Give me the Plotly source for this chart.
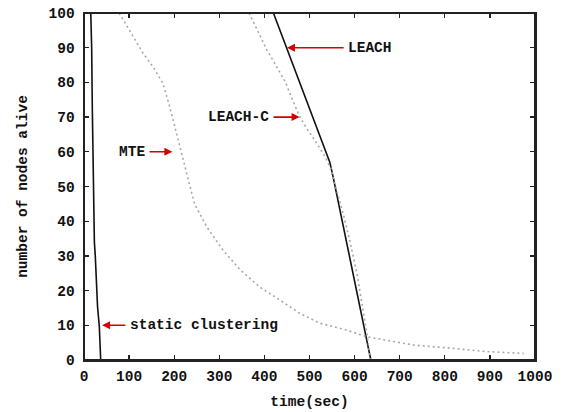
import plotly.graph_objects as go

# ---- data ----
static_x = [15, 16, 17, 18.5, 20, 21, 23, 25, 28, 30, 34, 35.5, 37]
static_y = [100, 95, 90, 72, 55, 46, 34, 30, 22, 15.4, 9.6, 3, 0]

leach_x = [420, 449, 500, 545, 552, 568, 594, 620, 636]
leach_y = [100, 90, 72.5, 57, 53, 43, 26.5, 9.5, 0]

leachc_x = [366, 385, 405, 425, 447, 462, 479, 495, 511, 535, 548, 560, 575, 590, 605, 618, 628, 635]
leachc_y = [100, 95, 89.5, 85, 80, 75, 70, 66.5, 63.5, 58.5, 55, 49, 42, 34, 25, 15, 7, 0]

mte_x = [78, 105, 131, 153, 175, 190, 205, 214, 231, 245, 272, 308, 346, 390, 434, 479, 523, 583, 627, 664, 731, 805, 894, 975]
mte_y = [100, 94, 88.4, 84.5, 79.7, 73, 65.3, 60.5, 52, 45, 38.4, 31.7, 26, 21, 17.3, 13.4, 10.6, 8.6, 6.7, 5.8, 4.3, 3.5, 2.4, 1.9]

x_ticks = [0, 100, 200, 300, 400, 500, 600, 700, 800, 900, 1000]
y_ticks = [0, 10, 20, 30, 40, 50, 60, 70, 80, 90, 100]

# labels: (text, text_x, text_y, anchor, arrow_tail_x, arrow_head_x)
labels = [
    ("LEACH", 579, 90, "left", 579, 450),
    ("LEACH-C", 417, 70, "right", 417, 478),
    ("MTE", 142, 60, "right", 142, 196),
    ("static clustering", 95, 10, "left", 95, 40),
]

FONT = "Liberation Mono"
RED = "#d40000"
FS = 14.5

fig = go.Figure()
fig.add_trace(go.Scatter(x=static_x, y=static_y, mode="lines",
                         line=dict(color="#111111", width=1.6), showlegend=False))
fig.add_trace(go.Scatter(x=leach_x, y=leach_y, mode="lines",
                         line=dict(color="#111111", width=1.6), showlegend=False))
fig.add_trace(go.Scatter(x=leachc_x, y=leachc_y, mode="lines",
                         line=dict(color="#a8a8a8", width=1.6, dash="2px,3px"), showlegend=False))
fig.add_trace(go.Scatter(x=mte_x, y=mte_y, mode="lines",
                         line=dict(color="#a8a8a8", width=1.6, dash="2px,3px"), showlegend=False))

annotations = []
for text, tx, ty, anchor, tail, head in labels:
    annotations.append(dict(x=head, y=ty, ax=tail, ay=ty, xref="x", yref="y",
                            axref="x", ayref="y", text="", showarrow=True,
                            arrowhead=2, arrowsize=1, arrowwidth=1.6,
                            arrowcolor=RED, standoff=0, startstandoff=0))
    annotations.append(dict(x=tx, y=ty, xref="x", yref="y", text=text,
                            showarrow=False, xanchor=anchor, yanchor="middle",
                            xshift=(1 if anchor == "left" else -1),
                            font=dict(family=FONT, size=FS, color="#111111", weight="bold")))

axis_common = dict(showline=True, linecolor="#222222", linewidth=1.5, mirror="ticks",
                   ticks="inside", ticklen=5, tickwidth=1.3, tickcolor="#222222",
                   showgrid=False, zeroline=False, automargin=False,
                   ticklabeloverflow="allow",
                   tickfont=dict(family=FONT, size=FS, color="#111111", weight="bold"))

fig.update_layout(
    width=564, height=412,
    margin=dict(l=84, r=29, t=13, b=52, autoexpand=False),
    paper_bgcolor="white", plot_bgcolor="white",
    xaxis=dict(range=[0, 1000], tickvals=x_ticks, ticklabelstandoff=2,
               title=dict(text="time(sec)", standoff=12,
                          font=dict(family=FONT, size=FS, color="#111111", weight="bold")),
               **axis_common),
    yaxis=dict(range=[0, 100], tickvals=y_ticks, ticklabelstandoff=5,
               title=dict(text="number of nodes alive", standoff=17,
                          font=dict(family=FONT, size=FS, color="#111111", weight="bold")),
               **axis_common),
    shapes=[dict(type="rect", xref="paper", yref="paper", x0=0, x1=1, y0=0, y1=1,
                 line=dict(color="#222222", width=2), layer="above")],
    annotations=annotations,
)

# remove the browser's default body margin so the figure sits at the page origin
fig.write_html("out.html",
               config={"displayModeBar": False, "staticPlot": True},
               post_script="document.body.style.margin='0';document.body.style.overflow='hidden';")
